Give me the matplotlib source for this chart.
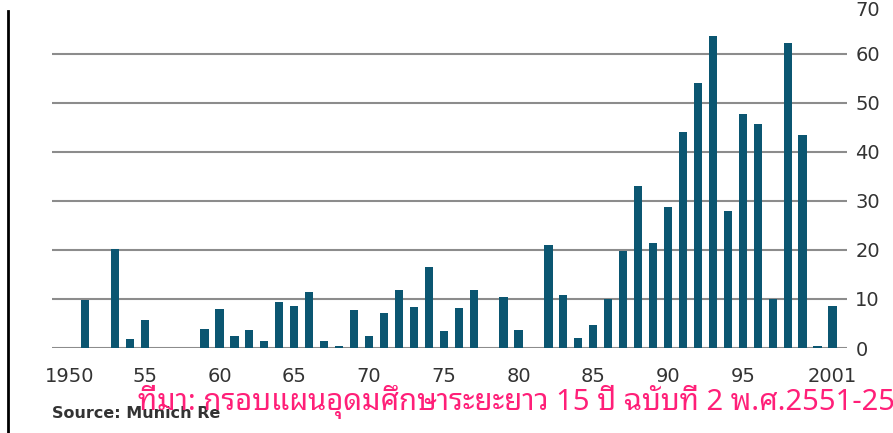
import numpy as np
import matplotlib
matplotlib.use("Agg")
import matplotlib.pyplot as plt
from matplotlib.transforms import ScaledTranslation

############################
# DATA
############################

years = list(range(1950, 2002))
values = [
    0, 9.7, 0, 20.2, 1.9, 5.8, 0, 0, 0, 3.9,          # 1950-1959
    8.0, 2.4, 3.7, 1.5, 9.4, 8.5, 11.4, 1.5, 0.5, 7.8,  # 1960-1969
    2.5, 7.1, 11.9, 8.3, 16.5, 3.4, 8.2, 11.9, 0, 10.5, # 1970-1979
    3.6, 0, 21.1, 10.8, 2.0, 4.6, 10.1, 19.7, 33.1, 21.4,  # 1980-1989
    28.8, 44.1, 54.1, 63.6, 27.9, 47.8, 45.7, 10.0, 62.2, 43.5,  # 1990-1999
    0.5, 8.5,                                           # 2000-2001
]
xtick_pos    = [1950, 1955, 1960, 1965, 1970, 1975, 1980, 1985, 1990, 1995, 2001]
xtick_labels = ["1950", "55", "60", "65", "70", "75", "80", "85", "90", "95", "2001"]
ytick_pos    = [0, 10, 20, 30, 40, 50, 60, 70]
grid_levels  = [0, 10, 20, 30, 40, 50, 60]

source_text = "Source: Munich Re"
thai_text   = "ที่มา: กรอบแผนอุดมศึกษาระยะยาว 15 ปี ฉบับที่ 2 พ.ศ.2551-2565"

BAR_COLOR  = "#0b5671"
GRID_COLOR = "#8c8c8c"
TEXT_COLOR = "#333333"
PINK       = "#ff1f78"

############################
# PLOT
############################

fig = plt.figure(figsize=(8.93, 4.33), dpi=100)
ax = fig.add_axes([52 / 893, (433 - 348) / 433, (847 - 52) / 893, 345 / 433])

ax.hlines(grid_levels, 1948.8, 2001.97, color=GRID_COLOR, linewidth=1.5, zorder=1)
ax.bar(years, values, width=0.55, color=BAR_COLOR, zorder=2)

ax.set_xlim(1948.8, 2001.97)
ax.set_ylim(0, 70.4)

ax.set_xticks(xtick_pos)
ax.set_xticklabels(xtick_labels)
ax.set_yticks(ytick_pos)
ax.yaxis.tick_right()
ax.tick_params(axis="both", length=0, labelsize=14, labelcolor=TEXT_COLOR)
ax.tick_params(axis="x", pad=14)
ax.tick_params(axis="y", pad=6)

# top label sits right at the edge; nudge it down a touch so it stays on the page
top_lab = ax.get_yticklabels()[-1]
top_lab.set_transform(top_lab.get_transform() + ScaledTranslation(0, -4 / 100, fig.dpi_scale_trans))

for s in ax.spines.values():
    s.set_visible(False)

# black rule down the left edge
fig.add_artist(plt.Line2D([7.5 / 893, 7.5 / 893], [0, (433 - 11) / 433],
                          transform=fig.transFigure, color="black", linewidth=2))

fig.text(52 / 893, 1 - 413 / 433, source_text, fontsize=11.5, color=TEXT_COLOR,
         fontweight="bold", va="center", ha="left")
fig.text(138 / 893, 1 - 410 / 433, thai_text, fontsize=21, color=PINK,
         va="baseline", ha="left",
         family=["Noto Sans Thai Looped", "Noto Sans Thai", "Sarabun", "Anuphan", "DejaVu Sans"])

fig.savefig("out.png", dpi=100)
